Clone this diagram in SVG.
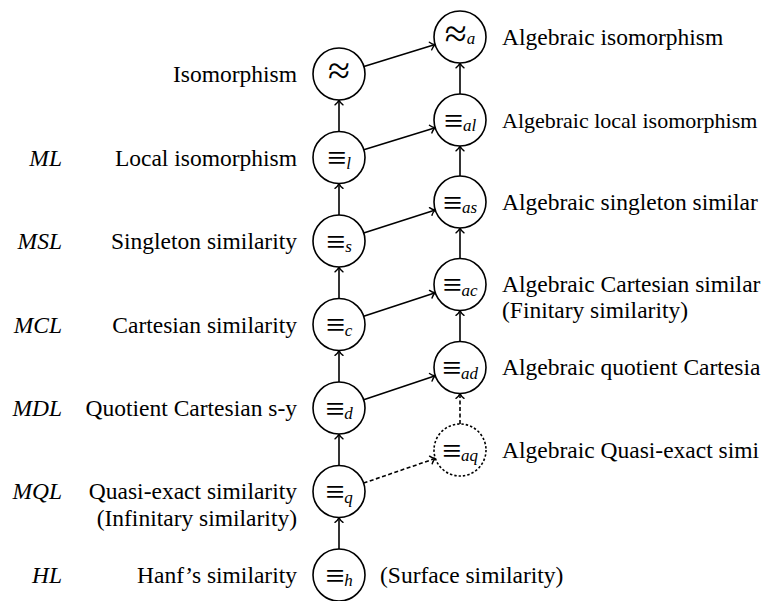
<svg xmlns="http://www.w3.org/2000/svg" width="768" height="601" viewBox="0 0 768 601">
<style>
text{font-family:"Liberation Serif","DejaVu Serif",serif;font-size:23.5px;fill:#000}
.it{font-style:italic}
.r{text-anchor:end}
.m{text-anchor:middle}
.eq{font-size:34px}
.ap{font-size:40px}
.sub{font-style:italic;font-size:17px}
.sm{font-size:22px}
.node circle{fill:#fff;stroke:#000;stroke-width:1.6}
.dot circle{stroke-dasharray:2.4 2}
.conn line{stroke:#000;stroke-width:1.6;marker-end:url(#arr)}
.conn line.d{stroke-dasharray:4 2.5}
</style>
<defs>
<marker id="arr" viewBox="-6 -5 8 10" refX="0" refY="0" markerWidth="8" markerHeight="10" markerUnits="userSpaceOnUse" orient="auto">
<path d="M-4.8,-4 C-3.2,-1.6 -1.2,-0.5 0,0 C-1.2,0.5 -3.2,1.6 -4.8,4" fill="none" stroke="#000" stroke-width="1.4" stroke-linecap="round" stroke-dasharray="none"/>
</marker>
</defs>
<rect width="768" height="601" fill="#fff"/>
<g id="connectors" class="conn">
<line x1="339" y1="549" x2="339" y2="517.5"/>
<line x1="339" y1="465.5" x2="339" y2="434"/>
<line x1="339" y1="382" x2="339" y2="350.5"/>
<line x1="339" y1="298.5" x2="339" y2="267"/>
<line x1="339" y1="215" x2="339" y2="183.5"/>
<line x1="339" y1="131.5" x2="339" y2="100"/>
<line x1="460" y1="94" x2="460" y2="63"/>
<line x1="460" y1="176" x2="460" y2="146"/>
<line x1="460" y1="258.5" x2="460" y2="228"/>
<line x1="460" y1="341.5" x2="460" y2="310.5"/>
<line class="d" x1="460" y1="424" x2="460" y2="393.5"/>
<line x1="363.9" y1="66.4" x2="435.1" y2="44.6"/>
<line x1="363.8" y1="149.8" x2="435.2" y2="127.7"/>
<line x1="363.7" y1="233" x2="435.3" y2="210"/>
<line x1="363.7" y1="316.3" x2="435.3" y2="292.7"/>
<line x1="363.7" y1="399.7" x2="435.3" y2="375.8"/>
<line class="d" x1="363.6" y1="483.1" x2="435.4" y2="458.4"/>
</g>
<g id="iso" class="node"><circle cx="339" cy="74" r="26"/><text class="m ap" x="339" y="84">≈</text><text class="r" x="297" y="82">Isomorphism</text></g>
<g id="loc" class="node"><circle cx="339" cy="157.5" r="26"/><text class="m" x="339" y="169"><tspan class="eq">≡</tspan><tspan class="sub" dy="-0.5">l</tspan></text><text class="r" x="297" y="165.5">Local isomorphism</text><text class="r it" x="62" y="165.5">ML</text></g>
<g id="sing" class="node"><circle cx="339" cy="241" r="26"/><text class="m" x="339" y="252.5"><tspan class="eq">≡</tspan><tspan class="sub" dy="-0.5">s</tspan></text><text class="r" x="297" y="249">Singleton similarity</text><text class="r it" x="62" y="249">MSL</text></g>
<g id="cart" class="node"><circle cx="339" cy="324.5" r="26"/><text class="m" x="339" y="336"><tspan class="eq">≡</tspan><tspan class="sub" dy="-0.5">c</tspan></text><text class="r" x="297" y="332.5">Cartesian similarity</text><text class="r it" x="62" y="332.5">MCL</text></g>
<g id="quot" class="node"><circle cx="339" cy="408" r="26"/><text class="m" x="339" y="419.5"><tspan class="eq">≡</tspan><tspan class="sub" dy="-0.5">d</tspan></text><text class="r" x="297" y="416">Quotient Cartesian s-y</text><text class="r it" x="62" y="416">MDL</text></g>
<g id="quasi" class="node"><circle cx="339" cy="491.5" r="26"/><text class="m" x="339" y="503"><tspan class="eq">≡</tspan><tspan class="sub" dy="-0.5">q</tspan></text><text class="r" x="297" y="499">Quasi-exact similarity</text><text class="r" x="297" y="525.5">(Infinitary similarity)</text><text class="r it" x="62" y="499">MQL</text></g>
<g id="hanf" class="node"><circle cx="339" cy="575" r="26"/><text class="m" x="339" y="586.5"><tspan class="eq">≡</tspan><tspan class="sub" dy="-0.5">h</tspan></text><text class="r" x="297" y="583">Hanf’s similarity</text><text x="380" y="583">(Surface similarity)</text><text class="r it" x="62" y="583">HL</text></g>
<g id="a-iso" class="node"><circle cx="460" cy="37" r="26"/><text class="m" x="460" y="47"><tspan class="ap">≈</tspan><tspan class="sub" dy="-3">a</tspan></text><text x="502" y="44.5">Algebraic isomorphism</text></g>
<g id="a-loc" class="node"><circle cx="460" cy="120" r="26"/><text class="m" x="460" y="131.5"><tspan class="eq">≡</tspan><tspan class="sub" dy="-0.5">al</tspan></text><text class="sm" x="502" y="127.5">Algebraic local isomorphism</text></g>
<g id="a-sing" class="node"><circle cx="460" cy="202" r="26"/><text class="m" x="460" y="213.5"><tspan class="eq">≡</tspan><tspan class="sub" dy="-0.5">as</tspan></text><text x="502" y="209.5">Algebraic singleton similar</text></g>
<g id="a-cart" class="node"><circle cx="460" cy="284.5" r="26"/><text class="m" x="460" y="296"><tspan class="eq">≡</tspan><tspan class="sub" dy="-0.5">ac</tspan></text><text x="502" y="291.5">Algebraic Cartesian similar</text><text x="502" y="317.5">(Finitary similarity)</text></g>
<g id="a-quot" class="node"><circle cx="460" cy="367.5" r="26"/><text class="m" x="460" y="379"><tspan class="eq">≡</tspan><tspan class="sub" dy="-0.5">ad</tspan></text><text x="502" y="375">Algebraic quotient Cartesia</text></g>
<g id="a-quasi" class="node dot"><circle cx="460" cy="450" r="26"/><text class="m" x="460" y="461.5"><tspan class="eq">≡</tspan><tspan class="sub" dy="-0.5">aq</tspan></text><text x="502" y="457.5">Algebraic Quasi-exact simi</text></g>
</svg>
